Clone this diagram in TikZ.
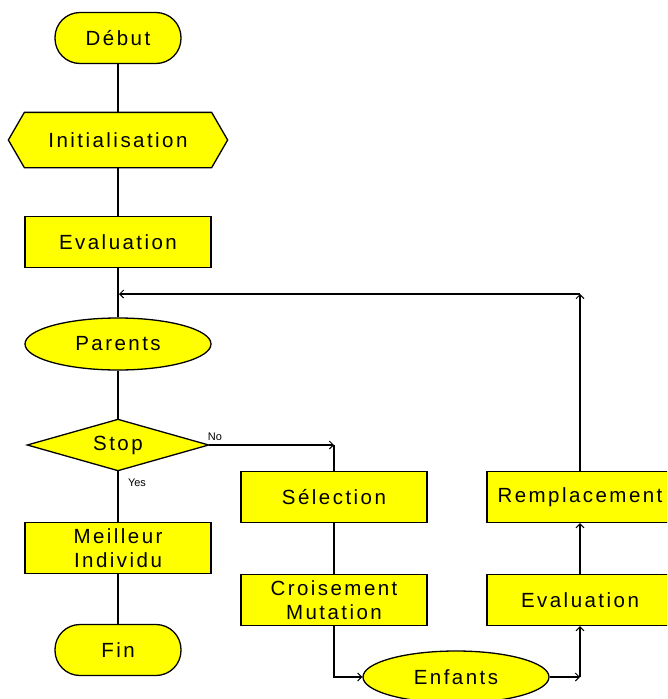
\documentclass[tikz,border=0pt]{standalone}
\usepackage{fontspec}
\setmainfont{Liberation Sans}[LetterSpace=12]
\newfontfamily\lblfont{Liberation Sans}
\usetikzlibrary{shapes.geometric,arrows.meta,backgrounds}
\definecolor{fy}{RGB}{255,255,0}
\begin{document}
\begin{tikzpicture}[x=1pt,y=-1pt,
  base/.style={draw=black,fill=fy,line width=1.3pt,inner sep=0pt,align=center,
    font=\fontsize{20.5}{24}\selectfont},
  box/.style={base,rectangle,minimum width=186pt,minimum height=51pt},
  term/.style={base,rectangle,rounded corners=25pt,minimum width=126pt,minimum height=51pt},
  oval/.style={base,ellipse,minimum width=186pt,minimum height=52pt},
  ghost/.style={base,draw=none,fill=none,rectangle},
  outline/.style={draw=black,fill=fy,line width=1.3pt},
  conn/.style={line width=1.3pt},
  arr/.style={conn,-{Straight Barb[length=4pt,width=8pt,line width=1pt]}},
  lbl/.style={font=\lblfont\fontsize{11}{12}\selectfont,inner sep=0pt}]
\useasboundingbox (0,0) rectangle (667,699);
\clip (0,0) rectangle (667,699);

\node[term] (debut) at (118,38) {Début};
\node[ghost,minimum width=186pt,minimum height=54pt] (init) at (118,140) {Initialisation};
\node[box] (eval1) at (118,242) {Evaluation};
\node[oval] (parents) at (118,344) {Parents};
\node[ghost,minimum width=180pt,minimum height=50pt] (stop) at (118,445) {Stop};
\node[box] (best) at (118,548) {Meilleur\\Individu};
\node[term] (fin) at (118,650) {Fin};
\begin{scope}[on background layer]
\filldraw[outline] (init.north west) -- (init.north east)
  -- ([xshift=16pt]init.east) -- (init.south east) -- (init.south west)
  -- ([xshift=-16pt]init.west) -- cycle;
\filldraw[outline] (stop.north) -- (stop.east) -- (stop.south) -- (stop.west) -- cycle;
\end{scope}

\node[box] (sel) at (334,497) {Sélection};
\node[box] (crois) at (334,600) {Croisement\\Mutation};
\node[oval] (enf) at (456,677) {Enfants};
\node[box] (eval2) at (580,600) {Evaluation};
\node[box] (rempl) at (580,497) {Remplacement};

\coordinate (cno) at (334,445);
\coordinate (cenf) at (580,677);
\coordinate (ctop) at (580,294);
\coordinate (cmain) at (119,294);

\draw[conn] (debut) -- (init);
\draw[conn] (init) -- (eval1);
\draw[conn] (eval1) -- (parents);
\draw[conn] (parents) -- (stop.north);
\draw[conn] (stop.south) -- (best);
\draw[conn] (best) -- (fin);
\draw[arr] (stop.east) -- (cno);
\draw[conn] (cno) -- (sel.north);
\draw[conn] (sel) -- (crois);
\draw[arr] (crois.south) |- (enf.west);
\draw[arr] (enf.east) -- (cenf);
\draw[arr] (cenf) -- (eval2.south);
\draw[arr] (eval2) -- (rempl);
\draw[arr] (rempl.north) -- (ctop);
\draw[arr] (ctop) -- (cmain);

\node[lbl] (no) at (215,437) {No};
\node[lbl] (yes) at (137,483) {Yes};
\end{tikzpicture}
\end{document}
